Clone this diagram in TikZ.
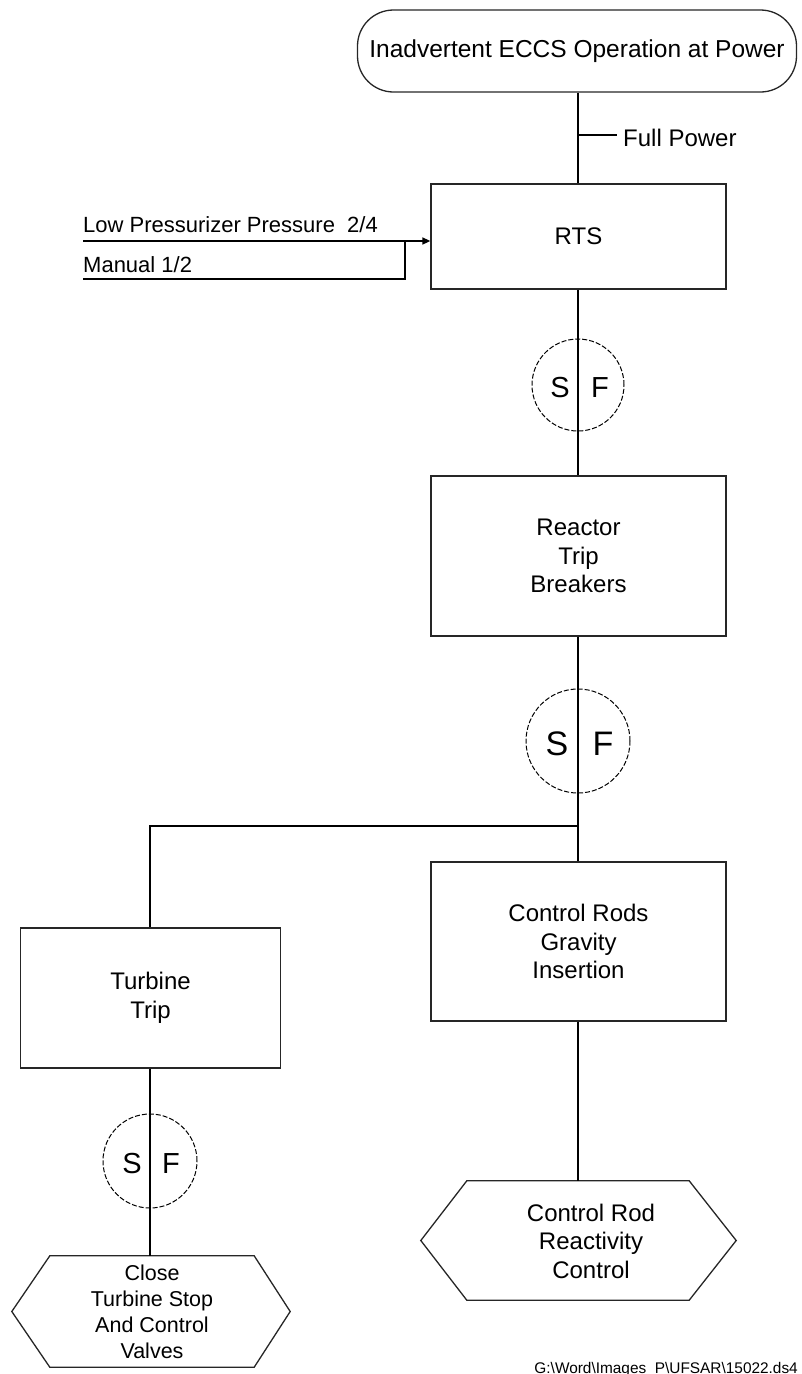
\documentclass[tikz,border=0pt]{standalone}
\usepackage{fontspec}
\setmainfont{Liberation Sans}
\usetikzlibrary{arrows.meta}
\tikzset{
  conn/.style={line width=1.6pt, draw=black},
  boxnode/.style={draw=black!85, line width=1.3pt, rectangle, inner sep=0pt, align=center, font=\fontsize{24}{28.5}\selectfont},
  term/.style={draw=black!85, line width=1.3pt, rectangle, rounded corners=36pt, inner sep=0pt, font=\fontsize{24.5}{29}\selectfont},
  sfcirc/.style={circle, draw=black, line width=1pt, dash pattern=on 5pt off 2pt, inner sep=0pt},
  sftxt/.style={inner sep=0pt, font=\fontsize{29}{29}\selectfont},
  sftxtbig/.style={inner sep=0pt, font=\fontsize{34}{34}\selectfont},
  hexnode/.style={rectangle, draw=none, inner sep=0pt},
  hexline/.style={draw=black!85, line width=1.3pt, line join=miter},
  lbl/.style={inner sep=0pt, font=\fontsize{24}{28}\selectfont},
  inlbl/.style={inner sep=0pt, font=\fontsize{22}{26}\selectfont},
}
\begin{document}
\begin{tikzpicture}[x=1pt,y=-1pt]
\useasboundingbox (0,0) rectangle (801,1374);

% top event
\node[term, minimum width=439pt, minimum height=82pt] (top) at (577,51) {Inadvertent ECCS Operation at Power};
\node[lbl, anchor=base west] (fpl) at (623,146) {Full Power};
\coordinate (fp) at (578,135);

% RTS
\node[boxnode, minimum width=295pt, minimum height=105pt] (rts) at (578.5,236.5) {RTS};
\draw[conn] (top.south -| fp) -- (rts.north -| fp);
\draw[conn] (fp) -- ([xshift=-6pt]fpl.west |- fp);

% inputs
\node[inlbl, anchor=base west] (lpp) at (83,232) {Low Pressurizer Pressure~~2/4};
\node[inlbl, anchor=base west] (man) at (83,272) {Manual 1/2};
\coordinate (in1) at (83,241);
\coordinate (in2) at (83,279);
\coordinate (mj) at (405,279);
\draw[conn, -{Triangle[length=8pt,width=7pt]}] (in1) -- (in1 -| rts.west);
\draw[conn] (in2) -- (mj) -- (mj |- in1);

% SF 1
\node[sfcirc, minimum size=92pt] (sf1) at (578,385) {};
\node[sftxt] (sf1s) at (560,388) {S};
\node[sftxt] (sf1f) at (600,388) {F};

% Reactor Trip Breakers
\node[boxnode, minimum width=295pt, minimum height=160pt] (rtb) at (578.5,556) {Reactor\\Trip\\Breakers};
\draw[conn] (rts.south -| sf1) -- (rtb.north -| sf1);

% SF 2
\node[sfcirc, minimum size=104pt] (sf2) at (578,741) {};
\node[sftxtbig] (sf2s) at (557,744) {S};
\node[sftxtbig] (sf2f) at (603,744) {F};

% Control rods
\node[boxnode, minimum width=295pt, minimum height=159pt] (crg) at (578.5,941.5) {Control Rods\\Gravity\\Insertion};
\draw[conn] (rtb.south -| sf2) -- (crg.north -| sf2);

% Turbine trip
\node[boxnode, minimum width=260pt, minimum height=140pt] (tt) at (150.5,998) {Turbine\\Trip};
\coordinate (j) at (578,826);
\coordinate (jl) at (150,826);
\draw[conn] (j) -- (jl) -- (jl |- tt.north);

% SF 3
\node[sfcirc, minimum size=94pt] (sf3) at (150,1161) {};
\node[sftxt] (sf3s) at (132,1164) {S};
\node[sftxt] (sf3f) at (171,1164) {F};

% hexagon left
\node[hexnode, minimum width=204pt, minimum height=111pt] (hex1) at (152,1311.5) {};
\draw[hexline] (hex1.north west) -- (hex1.north east) -- ([xshift=36pt]hex1.east) -- (hex1.south east) -- (hex1.south west) -- ([xshift=-38pt]hex1.west) -- cycle;
\node[inner sep=0pt, align=center, font=\fontsize{21.5}{26}\selectfont] (hex1t) at (152,1312) {Close\\Turbine Stop\\And Control\\Valves};
\draw[conn] (tt.south -| sf3) -- (hex1.north -| sf3);

% hexagon right
\node[hexnode, minimum width=222pt, minimum height=119pt] (hex2) at (578,1240.5) {};
\draw[hexline] (hex2.north west) -- (hex2.north east) -- ([xshift=47pt]hex2.east) -- (hex2.south east) -- (hex2.south west) -- ([xshift=-46pt]hex2.west) -- cycle;
\node[inner sep=0pt, align=center, font=\fontsize{24}{28.5}\selectfont] (hex2t) at (591,1241) {Control Rod\\Reactivity\\Control};
\draw[conn] (crg.south -| sf2) -- (hex2.north -| sf2);

% footer
\node[inner sep=0pt, anchor=base east, font=\fontsize{15.4}{16}\selectfont] (foot) at (798,1373) {G:\textbackslash Word\textbackslash Images\_P\textbackslash UFSAR\textbackslash 15022.ds4};
\end{tikzpicture}
\end{document}
